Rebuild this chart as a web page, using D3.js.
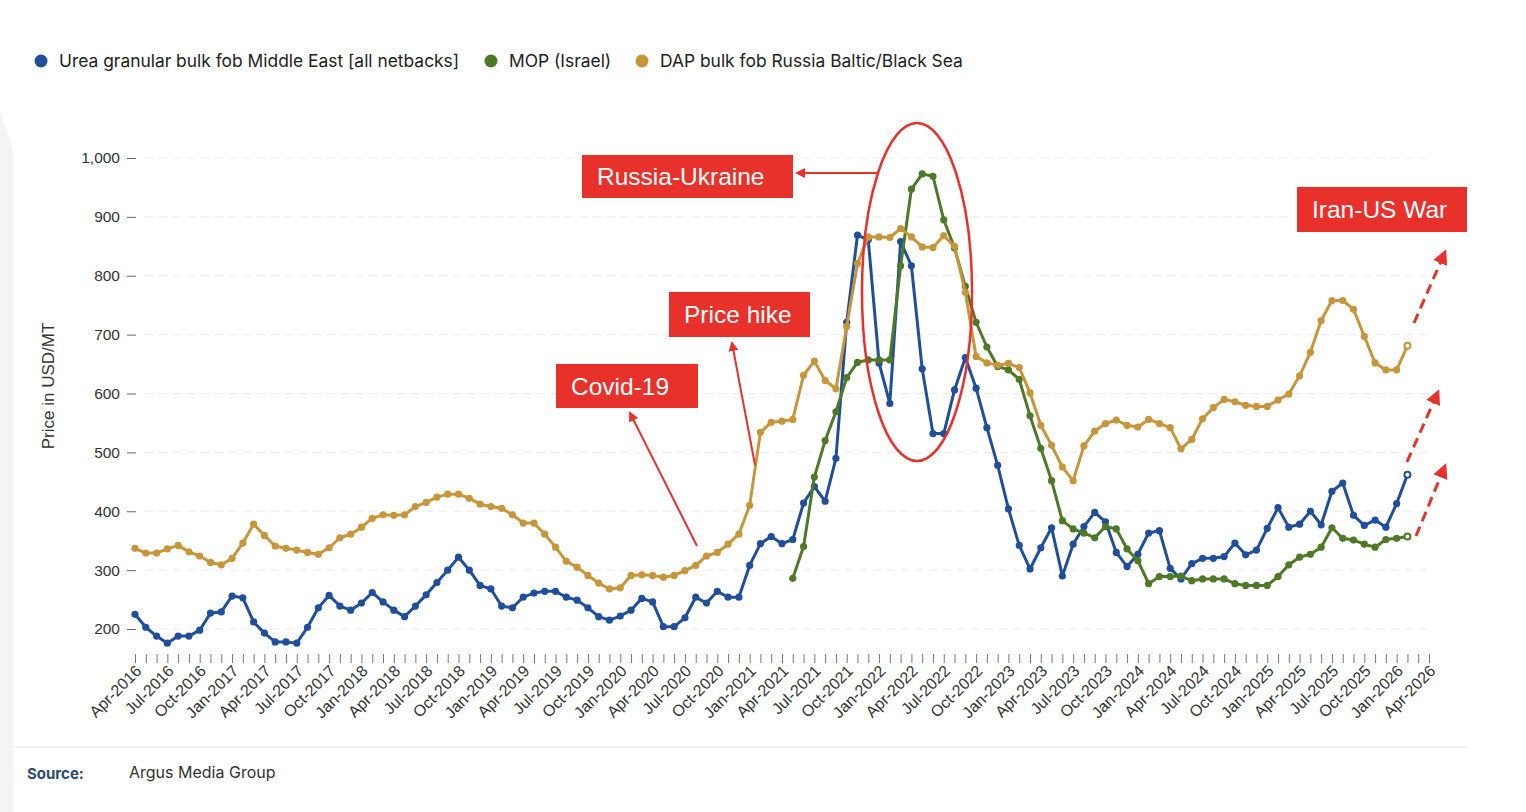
<!DOCTYPE html>
<html>
<head>
<meta charset="utf-8">
<script src="https://cdn.jsdelivr.net/npm/d3@7"></script>
<style>
  body { margin: 0; background: #fff; }
  svg { display: block; }
</style>
</head>
<body>
<div id="chart"></div>
<script>
// Chart area
var svgWidth = 1526;
var svgHeight = 812;

// Monthly categories, Apr-2016 .. Apr-2026
var months = d3.utcMonth.range(new Date(Date.UTC(2016, 3, 1)), new Date(Date.UTC(2026, 4, 1)));
var monthFmt = d3.utcFormat("%b-%Y");

// Urea granular bulk fob Middle East, from Apr-2016
var ureaValues = [225, 203, 188, 176, 188, 188, 198, 227, 229, 256, 253, 212, 193, 178, 178, 176,
  203, 236, 257, 239, 232, 244, 262, 246, 232, 221, 239, 258, 279, 300, 322, 300, 274, 268, 239, 236,
  254, 261, 264, 264, 254, 249, 236, 221, 215, 222, 232, 252, 246, 204, 204, 219, 254, 244, 264, 254,
  254, 308, 345, 357, 345, 352, 414, 442, 417, 490, 721, 869, 861, 652, 583, 858, 817, 642, 532, 532,
  606, 661, 609, 542, 478, 404, 342, 302, 338, 372, 290, 344, 374, 398, 382, 330, 306, 327, 363, 367,
  303, 285, 311, 320, 320, 323, 346, 326, 334, 371, 406, 373, 378, 400, 377, 434, 448, 393, 376, 385,
  373, 413, 462];

// MOP (Israel), from May-2021
var mopStart = "May-2021";
var mopValues = [286, 340, 458, 520, 569, 627, 653, 657, 657, 657, 817, 947, 973, 969, 895, 847,
  782, 721, 679, 646, 640, 624, 562, 507, 452, 384, 370, 363, 355, 374, 370, 336, 316, 277, 289, 289,
  290, 282, 285, 285, 285, 277, 274, 274, 274, 289, 309, 322, 327, 339, 372, 354, 351, 344, 339, 352,
  354, 357];

// DAP bulk fob Russia Baltic/Black Sea, from Apr-2016
var dapValues = [337, 329, 329, 336, 342, 331, 324, 313, 309, 320, 346, 378, 359, 341, 337, 334,
  330, 327, 338, 355, 361, 373, 388, 394, 393, 394, 408, 415, 424, 429, 429, 422, 412, 408, 405, 394,
  380, 380, 361, 339, 315, 305, 291, 278, 268, 270, 291, 292, 291, 288, 291, 299, 308, 324, 330, 344,
  361, 410, 534, 551, 553, 556, 631, 655, 622, 608, 714, 821, 866, 866, 865, 880, 866, 849, 848, 868,
  850, 772, 663, 652, 648, 651, 644, 601, 546, 512, 475, 452, 511, 536, 549, 555, 546, 543, 556, 549,
  542, 506, 522, 557, 576, 590, 586, 580, 578, 578, 589, 599, 630, 670, 724, 758, 758, 743, 697, 652,
  640, 640, 681];

var yTicks = [200, 300, 400, 500, 600, 700, 800, 900, 1000];

var seriesNames = ["Urea granular bulk fob Middle East [all netbacks]", "MOP (Israel)", "DAP bulk fob Russia Baltic/Black Sea"];
var seriesColors = ["#1f4f9c", "#4e7a27", "#c8963a"];
var red = "#e8312a";

var labels = months.map(monthFmt);

// build series as {label, value}
function toPoints(values, startLabel) {
  var start = labels.indexOf(startLabel);
  return values.map((v, i) => ({ label: labels[start + i], value: v }));
}
var series = [
  { name: seriesNames[0], color: seriesColors[0], points: toPoints(ureaValues, "Apr-2016") },
  { name: seriesNames[1], color: seriesColors[1], points: toPoints(mopValues, mopStart) },
  { name: seriesNames[2], color: seriesColors[2], points: toPoints(dapValues, "Apr-2016") }
];

var svg = d3.select("#chart")
  .append("svg")
  .attr("width", svgWidth)
  .attr("height", svgHeight)
  .style("font-family", "'Liberation Sans', Arial, sans-serif");

// faint page decoration at the left edge
svg.append("path")
  .attr("d", "M0,110 L13,150 L13,812 L0,812 Z")
  .attr("fill", "#f5f4f5");

// scales
var x = d3.scalePoint()
  .domain(labels)
  .range([135, 1429]);

var y = d3.scaleLinear()
  .domain([200, 1000])
  .range([629, 158]);

// gridlines
svg.append("g")
  .selectAll("line")
  .data(yTicks)
  .enter()
  .append("line")
  .attr("x1", 145)
  .attr("x2", 1432)
  .attr("y1", d => y(d))
  .attr("y2", d => y(d))
  .attr("stroke", "#ebebeb")
  .attr("stroke-dasharray", "8,6");

// y axis
var yAxis = svg.append("g")
  .attr("transform", "translate(136,0)")
  .call(d3.axisLeft(y).tickValues(yTicks).tickSize(9).tickPadding(7).tickFormat(d3.format(",")));
yAxis.select(".domain").remove();
yAxis.selectAll("line").attr("stroke", "#666");
yAxis.selectAll("text")
  .attr("font-size", 15.5)
  .attr("fill", "#333")
  .attr("font-family", "'Liberation Sans', Arial, sans-serif");

svg.append("text")
  .attr("transform", "translate(54,386) rotate(-90)")
  .attr("text-anchor", "middle")
  .attr("font-size", 17)
  .attr("fill", "#333")
  .text("Price in USD/MT");

// x axis, a tick every month, a label every quarter
var xAxis = svg.append("g")
  .attr("transform", "translate(0,654)")
  .call(d3.axisBottom(x)
    .tickValues(labels)
    .tickSize(9)
    .tickFormat((d, i) => i % 3 === 0 ? d : ""));
xAxis.select(".domain").remove();
xAxis.selectAll("line").attr("stroke", "#777");
xAxis.selectAll("text")
  .attr("x", 0)
  .attr("y", 0)
  .attr("dy", "0.35em")
  .attr("text-anchor", "end")
  .attr("transform", "translate(3,14) rotate(-45)")
  .attr("font-size", 16)
  .attr("fill", "#333")
  .attr("font-family", "'Liberation Sans', Arial, sans-serif");

// lines and markers
var lineFunction = d3.line()
  .x(d => x(d.label))
  .y(d => y(d.value));

series.forEach(function(s) {
  var g = svg.append("g");
  g.append("path")
    .attr("d", lineFunction(s.points))
    .attr("fill", "none")
    .attr("stroke", s.color)
    .attr("stroke-width", 3)
    .attr("stroke-linejoin", "round");
  g.selectAll("circle")
    .data(s.points)
    .enter()
    .append("circle")
    .attr("cx", d => x(d.label))
    .attr("cy", d => y(d.value))
    .attr("r", (d, i) => i === s.points.length - 1 ? 3 : 3.6)
    .attr("fill", (d, i) => i === s.points.length - 1 ? "#fff" : s.color)
    .attr("stroke", s.color)
    .attr("stroke-width", (d, i) => i === s.points.length - 1 ? 2 : 0);
});

// legend
var legend = svg.append("g").attr("font-family", "Inter, sans-serif");
var legendX = [41, 491, 642];
seriesNames.forEach(function(name, i) {
  legend.append("circle")
    .attr("cx", legendX[i]).attr("cy", 61).attr("r", 6.5)
    .attr("fill", seriesColors[i]);
  legend.append("text")
    .attr("x", legendX[i] + 18).attr("y", 67)
    .attr("font-size", 17.4)
    .attr("fill", "#222")
    .text(name);
});

// annotations
var defs = svg.append("defs");
defs.append("marker")
  .attr("id", "head")
  .attr("viewBox", "0 0 10 10")
  .attr("refX", 8).attr("refY", 5)
  .attr("markerWidth", 5).attr("markerHeight", 5)
  .attr("orient", "auto")
  .append("path")
  .attr("d", "M0,0 L10,5 L0,10 Z")
  .attr("fill", red);

function box(x0, y0, w, h, label) {
  svg.append("rect")
    .attr("x", x0).attr("y", y0)
    .attr("width", w).attr("height", h)
    .attr("fill", red);
  svg.append("text")
    .attr("x", x0 + 15).attr("y", y0 + h / 2 + 8.5)
    .attr("font-size", 24.5)
    .attr("fill", "#fff")
    .text(label);
}

function arrow(x1, y1, x2, y2, dashed) {
  svg.append("line")
    .attr("x1", x1).attr("y1", y1)
    .attr("x2", x2).attr("y2", y2)
    .attr("stroke", red)
    .attr("stroke-width", dashed ? 3 : 2)
    .attr("stroke-dasharray", dashed ? "10,6" : null)
    .attr("marker-end", "url(#head)");
}

// Russia-Ukraine circle
svg.append("ellipse")
  .attr("cx", 917).attr("cy", 292)
  .attr("rx", 55).attr("ry", 169)
  .attr("fill", "none")
  .attr("stroke", red)
  .attr("stroke-width", 2.5);

arrow(879, 173, 797, 173, false);
box(582, 155, 211, 43, "Russia-Ukraine");

arrow(755, 465, 732, 343, false);
box(669, 292, 141, 45, "Price hike");

arrow(697, 546, 630, 413, false);
box(556, 364, 142, 44, "Covid-19");

box(1297, 187, 170, 45, "Iran-US War");
arrow(1414, 323, 1445, 252, true);
arrow(1407, 462, 1438, 392, true);
arrow(1416, 536, 1445, 466, true);

// footer
svg.append("line")
  .attr("x1", 14).attr("x2", 1468)
  .attr("y1", 747).attr("y2", 747)
  .attr("stroke", "#e6e6e6");
svg.append("text")
  .attr("x", 27).attr("y", 779)
  .attr("font-family", "Inter, sans-serif")
  .attr("font-weight", 700)
  .attr("font-size", 15)
  .attr("fill", "#2c4a75")
  .text("Source:");
svg.append("text")
  .attr("x", 129).attr("y", 778)
  .attr("font-family", "Inter, sans-serif")
  .attr("font-size", 16)
  .attr("fill", "#333")
  .text("Argus Media Group");
</script>
</body>
</html>
